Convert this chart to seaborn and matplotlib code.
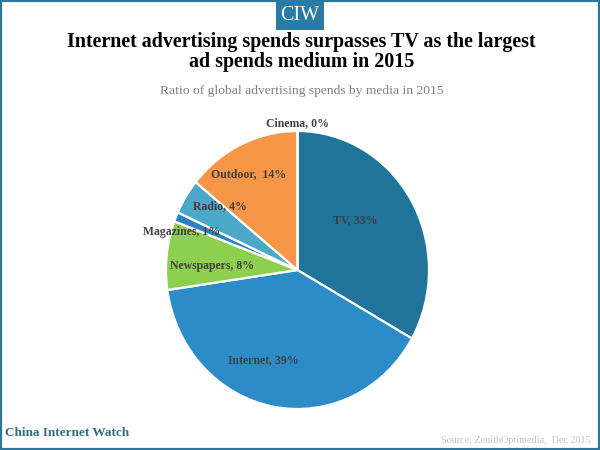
# Pie Chart of Media Shares Function
def PiePlot(values,labels,colors,labelx,labely,plotname):
    import matplotlib.pyplot as plt
    from matplotlib.patches import Rectangle
    import seaborn as sb

    sb.set_style('white')
    plt.rcParams['font.family'] = 'Liberation Serif'

    fig = plt.figure(figsize = (6,4.5), dpi = 100)
    # axes box so the pie lands where it does in the picture
    ax = fig.add_axes([133.1/600, 6.25/450, 328.75/600, 347.5/450])
    ax.pie(values, colors=sb.color_palette(colors), startangle=90, counterclock=False,
           wedgeprops={'edgecolor':'white','linewidth':1.6})
    ax.set_aspect('auto') #picture has a slightly tall pie
    for i in range(len(labels)):
        ax.text(labelx[i], labely[i], labels[i], ha='center', va='center', fontsize=8.5,
                weight='bold', color='#404040')

    #Frame & logo box
    fig.add_artist(Rectangle((0,0), 1, 1, transform=fig.transFigure, fill=False, edgecolor='#2E7699', linewidth=3))
    fig.add_artist(Rectangle((276/600,420/450), 48/600, 30/450, transform=fig.transFigure, color='#2A7BA3', linewidth=0))
    fig.text(0.5, 0.9655, 'CIW', ha='center', va='center', fontsize=14.5, color='white')

    #Titles
    fig.text(0.503, 0.9075, 'Internet advertising spends surpasses TV as the largest', ha='center', va='center',
             fontsize=14.4, weight='bold', color='black')
    fig.text(0.503, 0.8625, 'ad spends medium in 2015', ha='center', va='center',
             fontsize=14.4, weight='bold', color='black')
    fig.text(0.503, 0.798, 'Ratio of global advertising spends by media in 2015', ha='center', va='center',
             fontsize=9.7, color='#7F7F7F')

    #Footer
    fig.text(0.008, 0.038, 'China Internet Watch', ha='left', va='center', fontsize=9.5, weight='bold', color='#2E6E85')
    fig.text(0.984, 0.022, 'Source: ZenithOptimedia,  Dec 2015', ha='right', va='center', fontsize=7.3, color='#C4C4C4')

    fig.savefig(plotname,format='png',dpi=100,transparent=False)
    return(fig)

values=[33.2,39.5,8.0,1.1,4.1,14.1,0.0]
labels=['TV, 33%','Internet, 39%','Newspapers, 8%','Magazines, 1%','Radio, 4%','Outdoor,  14%','Cinema, 0%']
colors=['#20739B','#2B8CC8','#8FCF50','#2B83C4','#4BA8C8','#F79646','#2A7BA3']
labelx=[0.44,-0.26,-0.65,-0.88,-0.59,-0.37,0.0]
labely=[0.355,-0.65,0.03,0.27,0.46,0.69,1.06]

PiePlot(values,labels,colors,labelx,labely,'out.png')
